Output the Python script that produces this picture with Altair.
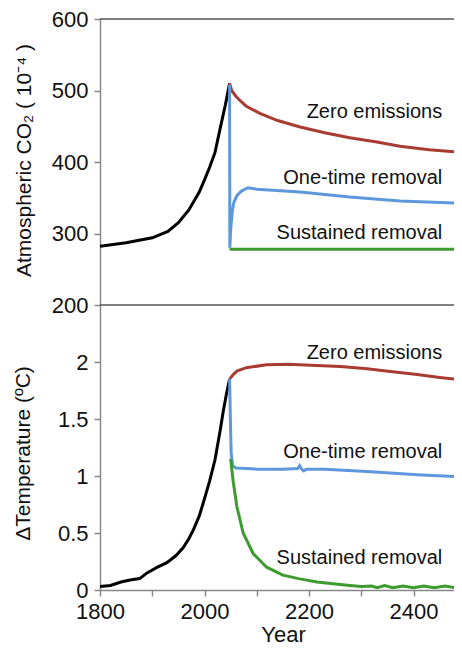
import altair as alt
import pandas as pd

FONT = "Liberation Sans"

# ---------- CO2 panel (ppm) ----------
hist_co2_year = [1800, 1850, 1900, 1930, 1950, 1970, 1990, 2000, 2010, 2020, 2030, 2040, 2048]
hist_co2_val = [282, 287, 294, 303, 315, 333, 358, 375, 393, 413, 447, 480, 510]

zero_co2_year = [2048, 2052, 2060, 2068, 2080, 2106, 2140, 2183, 2230, 2278, 2330, 2374, 2430, 2500]
zero_co2_val = [510, 500, 492, 486, 478, 468, 458, 449, 441, 434, 428, 422, 417, 413]

once_co2_year = [2048, 2048.5, 2050, 2053, 2056, 2062, 2070, 2083, 2100, 2183, 2278, 2374, 2500]
once_co2_val = [508, 280, 305, 330, 343, 353, 359, 364, 362, 358, 351, 345.5, 342]

sust_co2_year = [2048, 2500]
sust_co2_val = [278, 278]

# ---------- Temperature panel (deg C) ----------
hist_t_year = [1800, 1820, 1840, 1860, 1876, 1890, 1910, 1928, 1945, 1959, 1970, 1978,
               1990, 2000, 2010, 2020, 2030, 2036, 2042, 2048]
hist_t_val = [0.03, 0.04, 0.07, 0.09, 0.10, 0.15, 0.20, 0.24, 0.30, 0.37, 0.45, 0.52,
              0.65, 0.80, 0.96, 1.14, 1.40, 1.57, 1.72, 1.85]

zero_t_year = [2048, 2055, 2062, 2080, 2119, 2160, 2215, 2260, 2311, 2360, 2407, 2450, 2500]
zero_t_val = [1.85, 1.89, 1.92, 1.95, 1.975, 1.98, 1.97, 1.96, 1.94, 1.915, 1.89, 1.865, 1.84]

once_t_year = [2048, 2049.5, 2051, 2054, 2060, 2100, 2150, 2178, 2182, 2186, 2190, 2195,
               2230, 2311, 2407, 2500]
once_t_val = [1.85, 1.5, 1.2, 1.09, 1.07, 1.06, 1.06, 1.065, 1.09, 1.06, 1.045, 1.06,
              1.06, 1.04, 1.01, 0.99]

sust_t_year = [2050, 2055, 2062, 2074, 2093, 2119, 2150, 2180, 2215, 2278, 2300, 2320,
               2330, 2345, 2360, 2380, 2400, 2420, 2440, 2460, 2480, 2500]
sust_t_val = [1.15, 0.95, 0.73, 0.50, 0.32, 0.20, 0.13, 0.10, 0.07, 0.04, 0.03, 0.035,
              0.02, 0.04, 0.02, 0.035, 0.02, 0.035, 0.02, 0.035, 0.02, 0.03]

series_names = ["Historical", "Zero emissions", "One-time removal", "Sustained removal"]
series_colors = ["#000000", "#A83B32", "#5E97DC", "#3E9B2F"]

label_x = 2455
co2_label_y = [470, 378, 301]
t_label_y = [2.08, 1.21, 0.28]

co2_ticks = [200, 300, 400, 500, 600]
t_ticks = [0, 0.5, 1, 1.5, 2]
year_ticks = [1800, 1900, 2000, 2100, 2200, 2300, 2400]

X_DOMAIN = [1800, 2477.5]
CO2_DOMAIN = [200, 600]
T_DOMAIN = [0, 2.5]

W, H = 354, 571
SPLIT = 286  # pixel row where the two panels meet


def frame(pairs):
    rows = []
    for name, ys, vs in pairs:
        for i, (y, v) in enumerate(zip(ys, vs)):
            rows.append({"series": name, "year": y, "value": v, "order": i})
    return pd.DataFrame(rows)


co2_df = frame([
    ("Historical", hist_co2_year, hist_co2_val),
    ("Zero emissions", zero_co2_year, zero_co2_val),
    ("One-time removal", once_co2_year, once_co2_val),
    ("Sustained removal", sust_co2_year, sust_co2_val),
])
t_df = frame([
    ("Historical", hist_t_year, hist_t_val),
    ("Zero emissions", zero_t_year, zero_t_val),
    ("One-time removal", once_t_year, once_t_val),
    ("Sustained removal", sust_t_year, sust_t_val),
])

co2_lab = pd.DataFrame({"text": series_names[1:], "year": [label_x] * 3, "value": co2_label_y})
t_lab = pd.DataFrame({"text": series_names[1:], "year": [label_x] * 3, "value": t_label_y})
frame_df = pd.DataFrame({"value": [600, 200]})

color = alt.Color("series:N", scale=alt.Scale(domain=series_names, range=series_colors), legend=None)

x_enc = alt.X("year:Q", scale=alt.Scale(domain=X_DOMAIN, nice=False, zero=False),
              axis=alt.Axis(values=year_ticks, format="d", orient="bottom",
                            labelExpr="datum.value % 200 == 0 ? datum.label : ''",
                            labelFlush=False, labelPadding=22, labelBaseline="alphabetic",
                            title="Year", titleFontSize=22, titleX=183, titleY=51,
                            titleAlign="center", titleBaseline="alphabetic"))

co2_scale = alt.Scale(domain=CO2_DOMAIN, range=[SPLIT, 0], nice=False, zero=False)
t_scale = alt.Scale(domain=T_DOMAIN, range=[H, SPLIT], nice=False, zero=False)

co2_axis = alt.Axis(values=co2_ticks, orient="left", title="Atmospheric  CO₂ ( 10⁻⁴ )",
                    titleX=-76, titleY=141, titleAngle=270, titleAlign="center",
                    titleBaseline="middle", labelFlush=False)
t_axis = alt.Axis(values=t_ticks, orient="left", format=".1~f", title="ΔTemperature (ºC)",
                  titleX=-77, titleY=SPLIT + 148, titleAngle=270, titleAlign="center",
                  titleBaseline="middle", labelFlush=False)

frame_rules = alt.Chart(frame_df).mark_rule(color="#555555", strokeWidth=1.5).encode(
    y=alt.Y("value:Q", scale=co2_scale, axis=None))

co2_lines = alt.Chart(co2_df).mark_line(strokeWidth=3, clip=True).encode(
    x=x_enc, y=alt.Y("value:Q", scale=co2_scale, axis=co2_axis),
    color=color, detail="series:N", order="order:Q")

co2_text = alt.Chart(co2_lab).mark_text(align="right", baseline="middle", fontSize=20,
                                        font=FONT, color="#111").encode(
    x=x_enc, y=alt.Y("value:Q", scale=co2_scale, axis=None), text="text:N")

t_lines = alt.Chart(t_df).mark_line(strokeWidth=3, clip=True).encode(
    x=x_enc, y=alt.Y("value:Q", scale=t_scale, axis=t_axis),
    color=color, detail="series:N", order="order:Q")

t_text = alt.Chart(t_lab).mark_text(align="right", baseline="middle", fontSize=20,
                                    font=FONT, color="#111").encode(
    x=x_enc, y=alt.Y("value:Q", scale=t_scale, axis=None), text="text:N")

chart = alt.layer(frame_rules, co2_lines, co2_text, t_lines, t_text).resolve_scale(
    y="independent"
).properties(
    width=W, height=H,
    autosize=alt.AutoSizeParams(type="none"),
    padding={"left": 92, "top": 11, "right": 0, "bottom": 54},
).configure_view(stroke=None).configure_axis(
    domainColor="#888888", domainWidth=1.5, tickColor="#888888", tickWidth=1.5, tickSize=6,
    labelFont=FONT, labelFontSize=22, labelColor="#111", labelPadding=6,
    titleFont=FONT, titleFontSize=21, titleFontWeight="normal", titleColor="#111",
    grid=False,
)

chart.save("out.html", embed_options={"renderer": "svg", "actions": False})
